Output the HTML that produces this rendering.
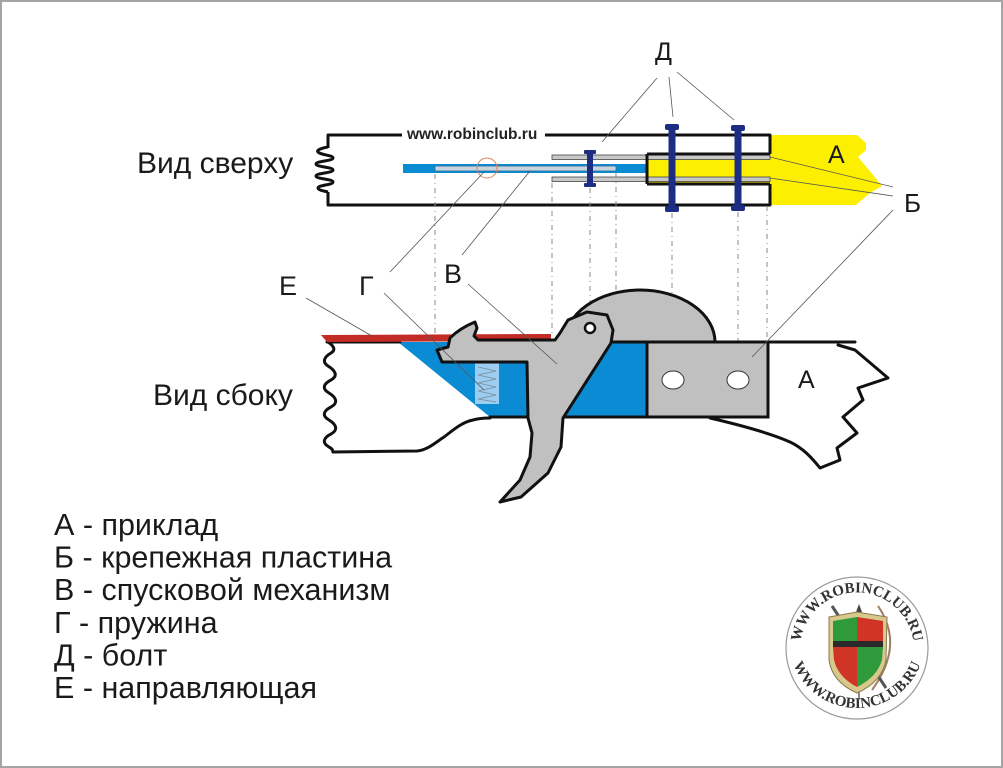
<!DOCTYPE html>
<html><head><meta charset="utf-8"><style>
html,body{margin:0;padding:0;background:#fff;}
svg{display:block;}
</style></head><body>
<svg width="1003" height="768" viewBox="0 0 1003 768" xmlns="http://www.w3.org/2000/svg" font-family="'Liberation Sans', 'DejaVu Sans', sans-serif">
<rect x="1" y="1" width="1001" height="766" fill="#fff" stroke="#a4a4a4" stroke-width="2"/>

<!-- ============ TOP VIEW ============ -->
<polygon points="647,154 770,154 770,135 857,135 866,143 866,150 858,157 869,170 882,186 870,193 856,205 770,205 770,184 647,184" fill="#fcf000"/>
<rect x="403" y="164" width="244" height="9" fill="#0b8bd3"/>
<rect x="435" y="166" width="181" height="5" fill="#c9d3da" stroke="#2a6f9f" stroke-width="0.8"/>
<circle cx="487" cy="168" r="10" fill="none" stroke="#e0805a" stroke-width="1"/>
<rect x="552" y="155" width="218" height="4.5" fill="#c8c8c8" stroke="#444" stroke-width="0.8"/>
<rect x="552" y="177" width="218" height="4.5" fill="#c8c8c8" stroke="#444" stroke-width="0.8"/>
<g fill="none" stroke="#111" stroke-width="3" stroke-linejoin="round">
<path d="M328,148 L328,135 L402,135 M545,135 L770,135 L770,154 M328,192 L328,205 L770,205 L770,184 M647,154 L770,154 M647,184 L770,184 M647,154 L647,184"/>
<path d="M328,147 C322,148 316,150 318,152 C320,155 333,155 333,158 C333,161 316,161 316,164 C316,167 333,167 333,170 C333,173 316,173 316,176 C316,179 333,179 333,182 C333,185 318,185 318,188 C318,190 324,191 328,192"/>
</g>
<text x="407" y="139" font-size="15.5" font-weight="bold" fill="#222">www.robinclub.ru</text>
<g fill="#1e2d84">
<rect x="668.5" y="124" width="7" height="88"/>
<rect x="665" y="124" width="14" height="6" rx="2"/>
<rect x="665" y="206" width="14" height="6" rx="2"/>
<rect x="734.5" y="125" width="7" height="86"/>
<rect x="731" y="125" width="14" height="6" rx="2"/>
<rect x="731" y="205" width="14" height="6" rx="2"/>
<rect x="587" y="150" width="6" height="37"/>
<rect x="584" y="150" width="12" height="4" rx="1"/>
<rect x="584" y="183" width="12" height="4" rx="1"/>
</g>

<g stroke="#8a8a8a" stroke-width="1" stroke-dasharray="5 4 1 4" fill="none">
<line x1="435" y1="174" x2="435" y2="334"/>
<line x1="552" y1="183" x2="552" y2="334"/>
<line x1="590" y1="188" x2="590" y2="306"/>
<line x1="616" y1="173" x2="616" y2="322"/>
<line x1="672" y1="213" x2="672" y2="382"/>
<line x1="738" y1="212" x2="738" y2="382"/>
<line x1="767" y1="206" x2="767" y2="341"/>
</g>

<!-- ============ SIDE VIEW ============ -->
<path d="M565,342 A75 52 0 0 1 715,342 Z" fill="#c0c0c0" stroke="#111" stroke-width="3"/>
<polygon points="398,342 647,342 647,417 490,417" fill="#0b8bd3"/>
<rect x="647" y="342" width="121" height="75" fill="#c0c0c0" stroke="#111" stroke-width="3"/>
<ellipse cx="673" cy="380" rx="11" ry="9" fill="#fff" stroke="#333" stroke-width="1"/>
<ellipse cx="738" cy="380" rx="11" ry="9" fill="#fff" stroke="#333" stroke-width="1"/>
<g fill="none" stroke="#111" stroke-width="3" stroke-linejoin="round" stroke-linecap="round">
<path d="M327,342 L400,342 M612,342 L855,342"/>
<path d="M490,417 L768,417"/>
<path d="M710,418 C740,425 770,433 790,442 C803,448 812,458 820,468 L840,460 L837,448 L857,433 L843,417 L863,400 L858,388 L888,378 L855,350 L838,345"/>
<path d="M333,452 L417,451 C428,450 436,442 444,437 C452,431 462,422 473,420 C480,418 486,418 490,418"/>
<path d="M328,342 C334,346 336,350 331,353 C324,357 322,362 328,366 C336,371 338,376 331,380 C323,384 322,389 329,393 C337,398 338,403 331,407 C323,411 322,416 329,420 C337,425 338,430 331,434 C323,438 322,443 329,447 C333,449 333,451 333,452"/>
</g>
<polygon points="321,335 551,334 551,341 327,342" fill="#c32b26"/>
<rect x="475" y="363" width="24" height="41" fill="#9ccdf0"/>
<polyline points="478,367 496,371 478,375 496,379 478,383 496,387 478,391 496,395 478,399 496,402" fill="none" stroke="#7a8a9a" stroke-width="0.8"/>
<path d="M475,322 L477,328 L474,336 L478,340 L555,340 L560,333 L568,320 L587,312 L607,315 L613,330 L611,343 L563,418 L561,447 L548,473 L521,497 L500,502 L520,480 L530,457 L532,433 L528,418 L527,362 L442,362 L437,350 L448,347 L450,338 Q460,328 475,322 Z" fill="#c0c0c0" stroke="#111" stroke-width="3" stroke-linejoin="round"/>
<circle cx="590" cy="328" r="5" fill="#fff" stroke="#111" stroke-width="2.5"/>

<g stroke="#555" stroke-width="0.8" fill="none">
<line x1="657" y1="78" x2="602" y2="142"/>
<line x1="669" y1="77" x2="673" y2="117"/>
<line x1="677" y1="72" x2="734" y2="120"/>
<line x1="770" y1="157" x2="893" y2="187"/>
<line x1="770" y1="178" x2="893" y2="196"/>
<line x1="893" y1="210" x2="752" y2="357"/>
<line x1="390" y1="272" x2="484" y2="172"/>
<line x1="462" y1="255" x2="530" y2="171"/>
<line x1="306" y1="298" x2="372" y2="336"/>
<line x1="384" y1="293" x2="484" y2="390"/>
<line x1="468" y1="284" x2="557" y2="364"/>
</g>

<g fill="#1a1a1a">
<text x="137" y="173" font-size="30">Вид сверху</text>
<text x="153" y="405" font-size="30">Вид сбоку</text>
<text x="655" y="60" font-size="25">Д</text>
<text x="828" y="163" font-size="25">А</text>
<text x="904" y="212" font-size="26">Б</text>
<text x="279" y="295" font-size="27">Е</text>
<text x="359" y="295" font-size="27">Г</text>
<text x="444" y="283" font-size="27">В</text>
<text x="798" y="388" font-size="25">А</text>
</g>

<g fill="#1a1a1a" font-size="30.5">
<text x="54" y="535">А - приклад</text>
<text x="54" y="567.6">Б - крепежная пластина</text>
<text x="54" y="600.2">В - спусковой механизм</text>
<text x="54" y="632.8">Г - пружина</text>
<text x="54" y="665.4">Д - болт</text>
<text x="54" y="698">Е - направляющая</text>
</g>

<g>
<circle cx="857" cy="648" r="71" fill="#fff" stroke="#9a9a9a" stroke-width="1.2"/>
<defs>
<path id="arcTop" d="M801,660 A57 57 0 1 1 913,660"/>
<path id="arcBot" d="M789,640 A68 68 0 1 0 925,640"/>
</defs>
<text font-family="'Liberation Serif', serif" font-weight="bold" font-size="15" fill="#333"><textPath href="#arcTop" startOffset="50%" text-anchor="middle">WWW.ROBINCLUB.RU</textPath></text>
<text font-family="'Liberation Serif', serif" font-weight="bold" font-size="15" fill="#333"><textPath href="#arcBot" startOffset="50%" text-anchor="middle">WWW.ROBINCLUB.RU</textPath></text>
<path d="M878,606 Q905,645 872,690" fill="none" stroke="#a08060" stroke-width="2"/>
<line x1="832" y1="606" x2="886" y2="688" stroke="#555" stroke-width="3"/>
<line x1="859" y1="608" x2="859" y2="700" stroke="#666" stroke-width="1.5"/>
<polygon points="859,604 856,612 862,612" fill="#444"/>
<path d="M829,617 L857,612 L887,617 L886,660 Q882,682 857,693 Q832,682 829,660 Z" fill="#d8c88c" stroke="#8a7a50" stroke-width="1"/>
<path d="M833,621 L857,617 L857,642 L833,642 Z" fill="#2f9a3c"/>
<path d="M857,617 L883,621 L883,642 L857,642 Z" fill="#cf3424"/>
<rect x="833" y="641" width="50" height="6" fill="#2a2a2a"/>
<path d="M833,647 L857,647 L857,687 Q838,677 834,660 Z" fill="#cf3424"/>
<path d="M857,647 L883,647 L882,660 Q877,677 857,687 Z" fill="#2f9a3c"/>
</g>
</svg>
</body></html>
